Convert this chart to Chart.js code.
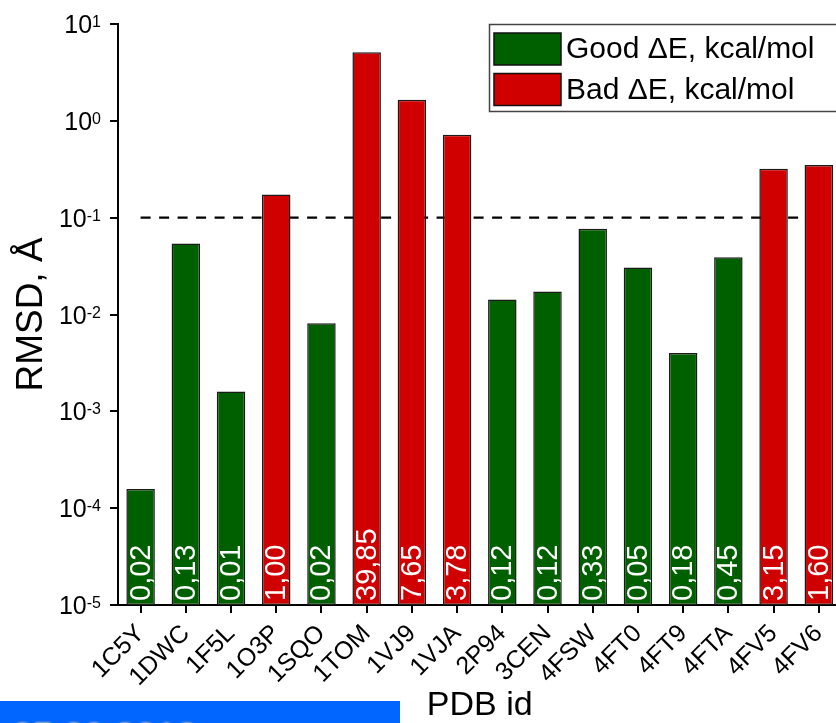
<!DOCTYPE html>
<html>
<head>
<meta charset="utf-8">
<script src="https://cdn.jsdelivr.net/npm/chart.js@4.4.0/dist/chart.umd.min.js"></script>
<style>
  html, body { margin: 0; padding: 0; background: #fff; overflow: hidden; }
  #wrap { position: relative; width: 836px; height: 723px; overflow: hidden; }
  #c { position: absolute; left: 0; top: 0; }
  #stamp { position: absolute; left: 0; top: 701px; width: 400px; height: 22px; background: #0066ff; overflow: hidden; }
  #stamp span { position: absolute; left: 12px; top: 17px; font: 37px "Liberation Sans", Arial, sans-serif; line-height: 1;
                color: #f29a3a; text-shadow: 0 0 3px #ffcf8a, 0 0 2px #ffcf8a; white-space: nowrap; }
</style>
</head>
<body>
<div id="wrap">
  <canvas id="c" width="846" height="723"></canvas>
  <div id="stamp"><span>25.09.2013</span></div>
</div>
<script>
// PDB entries along the x axis
const categories = ['1C5Y', '1DWC', '1F5L', '1O3P', '1SQO', '1TOM', '1VJ9', '1VJA',
                    '2P94', '3CEN', '4FSW', '4FT0', '4FT9', '4FTA', '4FV5', '4FV6'];
// RMSD per entry, Å
const rmsdValues = [1.58e-4, 0.054, 1.6e-3, 0.173, 8.1e-3, 5.1, 1.65, 0.72,
                    0.0143, 0.0173, 0.077, 0.0305, 4.0e-3, 0.039, 0.32, 0.35];
// Energy difference printed inside each bar, kcal/mol
const deltaELabels = ['0,02', '0,13', '0,01', '1,00', '0,02', '39,85', '7,65', '3,78',
                      '0,12', '0,12', '0,33', '0,05', '0,18', '0,45', '3,15', '1,60'];
// Whether the docking energy counts as good or bad
const quality = ['good', 'good', 'good', 'bad', 'good', 'bad', 'bad', 'bad',
                 'good', 'good', 'good', 'good', 'good', 'good', 'bad', 'bad'];
const seriesNames = ['Good \u0394E, kcal/mol', 'Bad \u0394E, kcal/mol'];
const rmsdThreshold = 0.1;
const yExponents = [1, 0, -1, -2, -3, -4, -5];

const FONT = '"Liberation Sans", Arial, sans-serif';
const GREEN = '#006000';
const RED = '#d00000';

const goodData = rmsdValues.map((v, i) => quality[i] === 'good' ? v : null);
const badData = rmsdValues.map((v, i) => quality[i] === 'bad' ? v : null);

const barStyle = {
  borderColor: '#1a1a1a',
  borderWidth: 1.5,
  borderSkipped: false,
  grouped: false,
  barPercentage: 0.63,
  categoryPercentage: 1
};

// Power-of-ten tick labels with raised exponents
const logTickLabels = {
  id: 'logTickLabels',
  afterDraw(chart) {
    const s = chart.scales.y;
    const ctx = chart.ctx;
    const rightEdge = 101;
    ctx.save();
    ctx.fillStyle = '#000';
    ctx.textBaseline = 'alphabetic';
    for (const e of yExponents) {
      const y = s.getPixelForValue(Math.pow(10, e));
      const exp = String(e);
      ctx.font = '16px ' + FONT;
      const ew = ctx.measureText(exp).width;
      ctx.textAlign = 'left';
      ctx.fillText(exp, rightEdge - ew, y + 3);
      ctx.font = '25px ' + FONT;
      ctx.textAlign = 'right';
      ctx.fillText('10', rightEdge - ew, y + 9);
    }
    ctx.restore();
  }
};

// Energy labels written upward from the foot of each bar
const barValueLabels = {
  id: 'barValueLabels',
  afterDatasetsDraw(chart) {
    const ctx = chart.ctx;
    const bottom = chart.chartArea.bottom;
    ctx.save();
    ctx.font = '29px ' + FONT;
    ctx.fillStyle = '#fff';
    ctx.textAlign = 'left';
    ctx.textBaseline = 'middle';
    [0, 1].forEach(di => {
      const meta = chart.getDatasetMeta(di);
      meta.data.forEach((bar, i) => {
        if (chart.data.datasets[di].data[i] == null) return;
        ctx.save();
        ctx.translate(bar.x + 1, bottom - 4);
        ctx.rotate(-Math.PI / 2);
        ctx.fillText(deltaELabels[i], 0, 0);
        ctx.restore();
      });
    });
    ctx.restore();
  }
};

// Boxed legend in the upper right corner
const boxLegend = {
  id: 'boxLegend',
  afterDraw(chart) {
    const ctx = chart.ctx;
    ctx.save();
    ctx.strokeStyle = '#444';
    ctx.lineWidth = 1.5;
    ctx.strokeRect(489.5, 24.5, 400, 87);
    ctx.font = '30px ' + FONT;
    ctx.textAlign = 'left';
    ctx.textBaseline = 'alphabetic';
    [0, 1].forEach(di => {
      const ds = chart.data.datasets[di];
      const top = 33 + di * 40.5;
      ctx.fillStyle = ds.backgroundColor;
      ctx.fillRect(494, top, 67, 32);
      ctx.strokeStyle = '#111';
      ctx.lineWidth = 1.5;
      ctx.strokeRect(494, top, 67, 32);
      ctx.fillStyle = '#000';
      ctx.fillText(ds.label, 566, top + 25);
    });
    ctx.restore();
  }
};

new Chart(document.getElementById('c'), {
  type: 'bar',
  data: {
    labels: categories,
    datasets: [
      Object.assign({ label: seriesNames[0], data: goodData, backgroundColor: GREEN, order: 1 }, barStyle),
      Object.assign({ label: seriesNames[1], data: badData, backgroundColor: RED, order: 2 }, barStyle),
      {
        type: 'line',
        label: 'RMSD 0.1 Å',
        data: categories.map(() => rmsdThreshold),
        borderColor: '#000',
        borderWidth: 2.2,
        borderDash: [10, 8.5],
        pointRadius: 0,
        fill: false,
        order: 3
      }
    ]
  },
  options: {
    responsive: false,
    devicePixelRatio: 1,
    animation: false,
    layout: { padding: { left: 0, top: 24, right: 0, bottom: 0 } },
    plugins: { legend: { display: false }, tooltip: { enabled: false } },
    scales: {
      x: {
        grid: { display: true, drawOnChartArea: false, drawTicks: true, tickLength: 8, color: '#000', lineWidth: 2, offset: false },
        border: { display: true, color: '#000', width: 2 },
        ticks: { color: '#000', font: { family: FONT, size: 25 }, minRotation: 45, maxRotation: 45, padding: 6, autoSkip: false },
        title: { display: true, text: 'PDB id', color: '#000', font: { family: FONT, size: 34, lineHeight: 1 }, padding: { top: 0, bottom: 0 } },
        afterFit(s) { s.height = 118; }
      },
      y: {
        type: 'logarithmic',
        min: 1e-5,
        max: 10,
        grid: { display: true, drawOnChartArea: false, drawTicks: true, tickLength: 8, color: '#000', lineWidth: 2 },
        border: { display: true, color: '#000', width: 2 },
        ticks: { display: false },
        afterBuildTicks(s) { s.ticks = yExponents.map(e => ({ value: Math.pow(10, e) })); },
        title: { display: true, text: 'RMSD, Å', color: '#000', font: { family: FONT, size: 37, lineHeight: 1 }, padding: { top: 13, bottom: 0 } },
        afterFit(s) { s.width = 118; }
      }
    }
  },
  plugins: [logTickLabels, barValueLabels, boxLegend]
});
</script>
</body>
</html>
